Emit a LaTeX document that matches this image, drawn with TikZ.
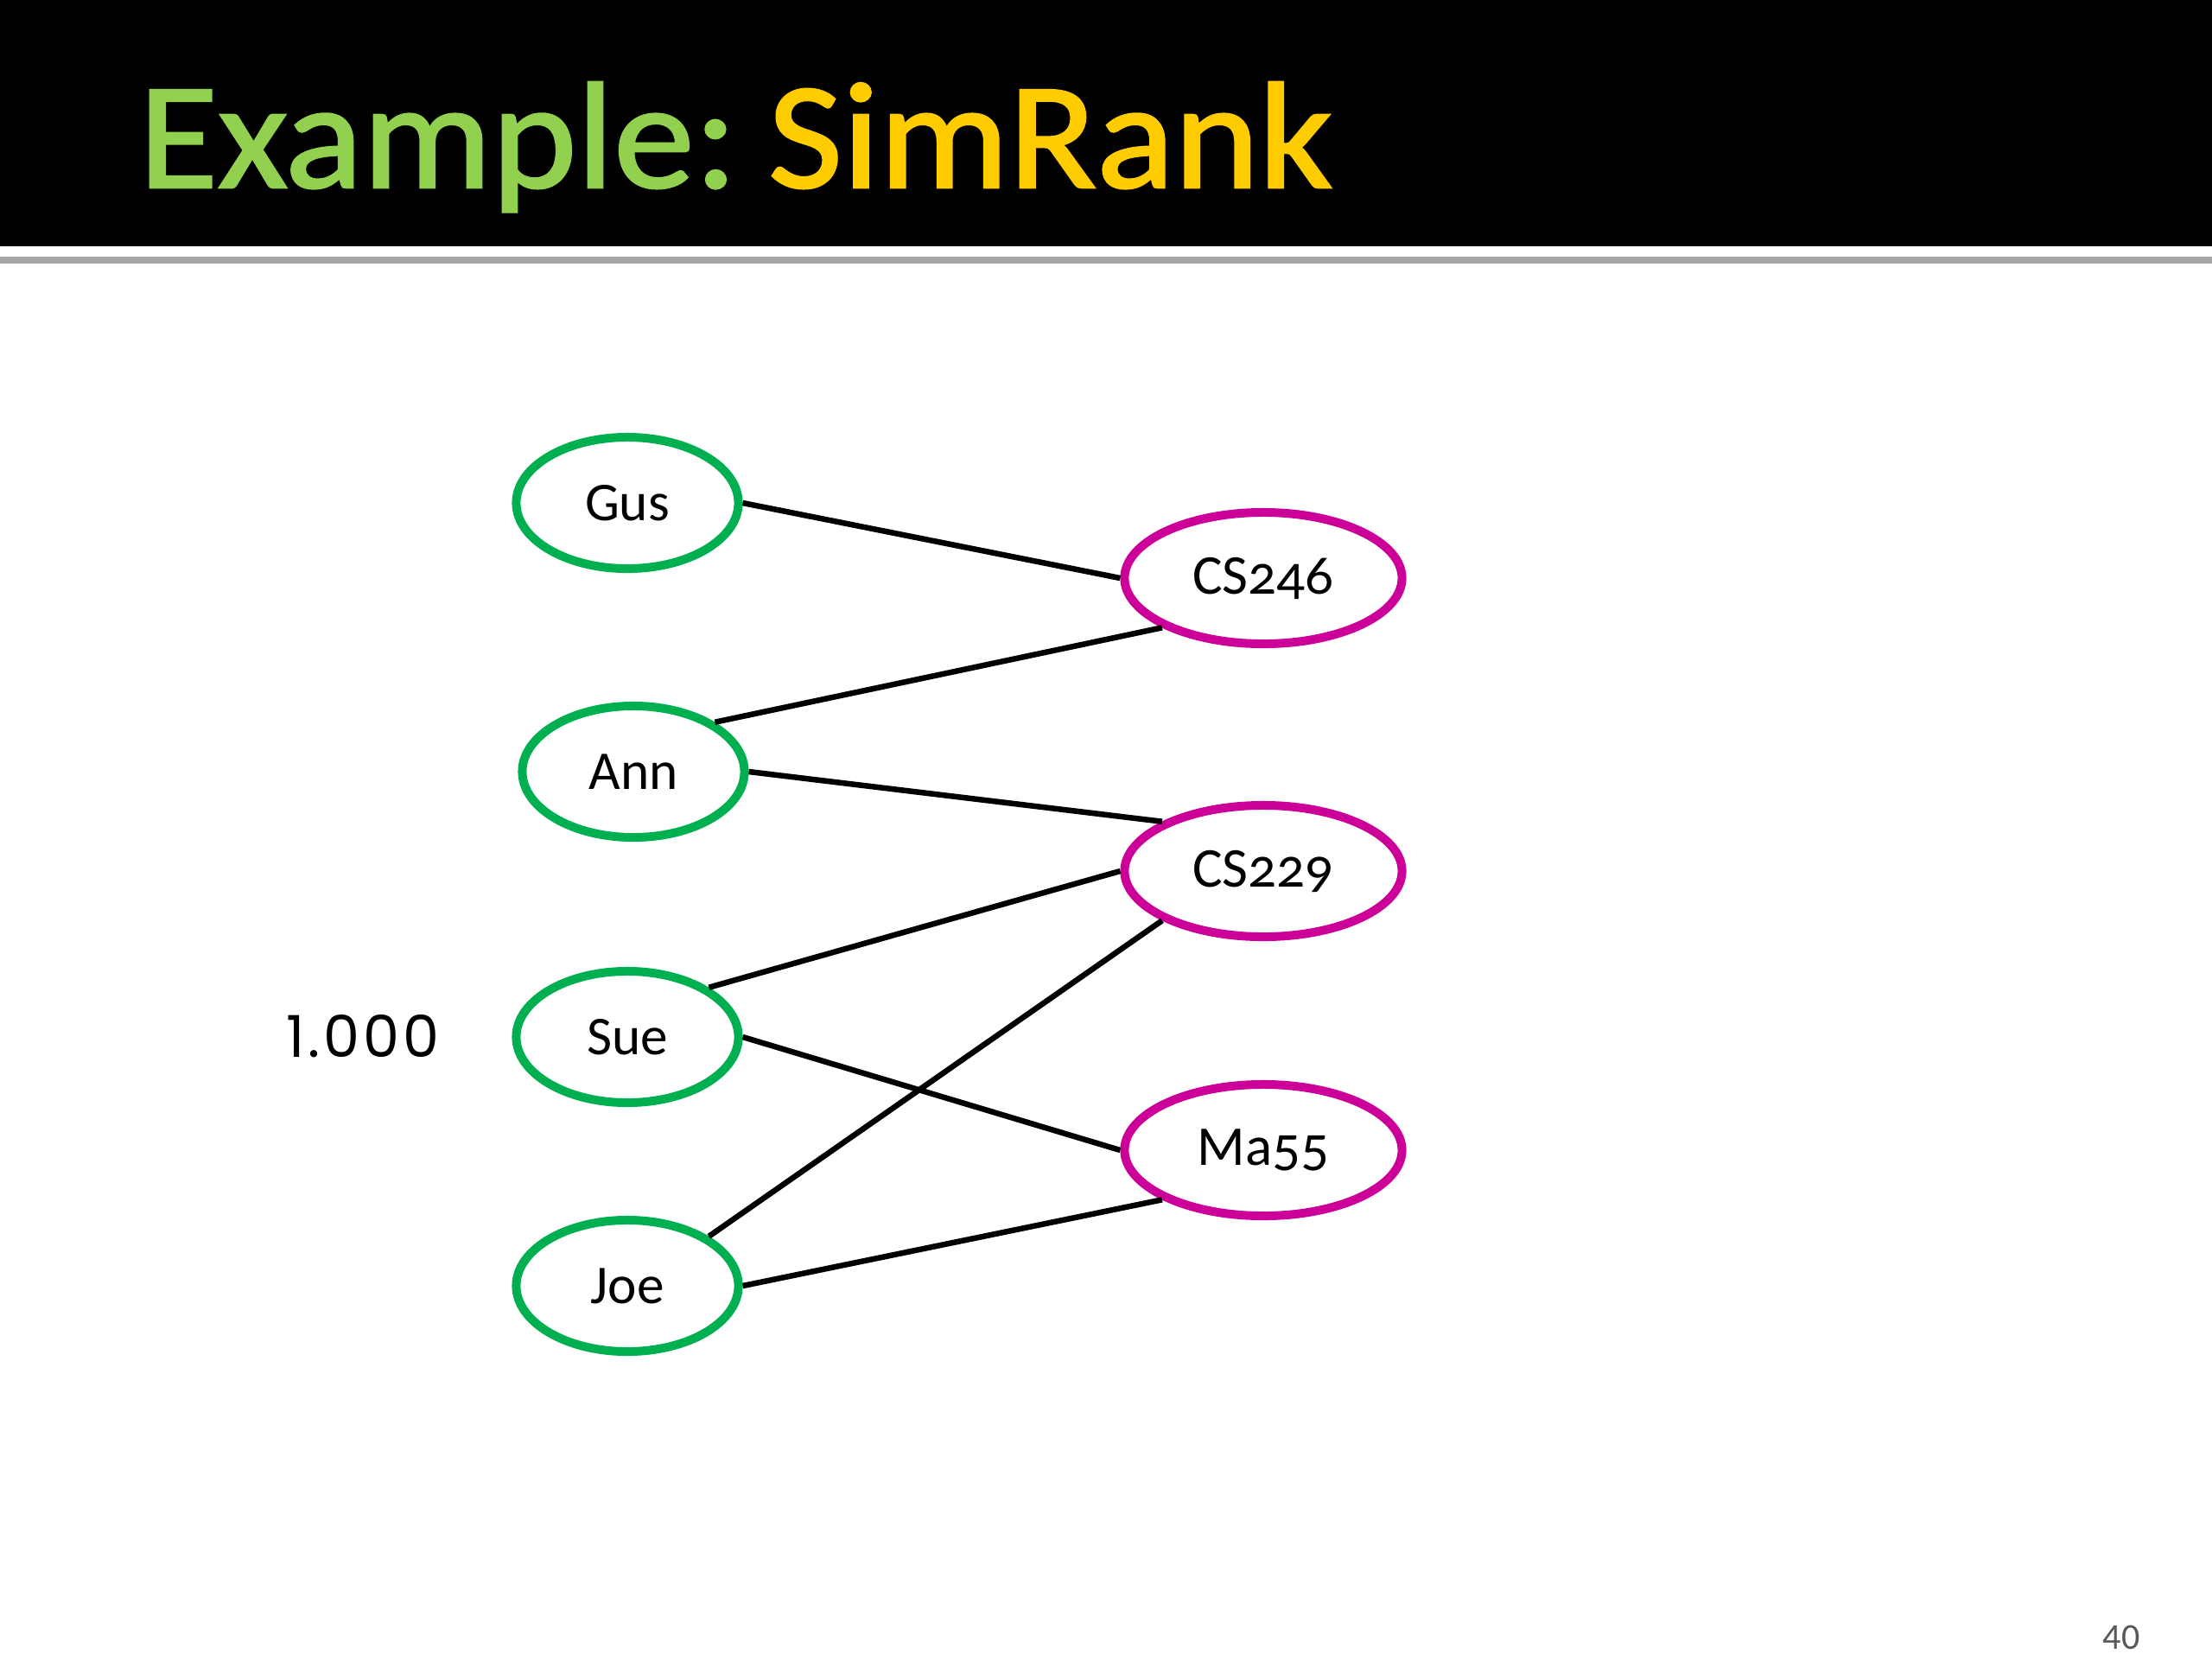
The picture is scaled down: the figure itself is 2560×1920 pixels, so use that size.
\documentclass[tikz,border=0pt]{standalone}
\usepackage{fontspec}
\setmainfont{Carlito}[Numbers=OldStyle]
\newfontfamily\titlefont{Carlito}[FakeBold=1.5,FakeStretch=1.065]
\newfontfamily\numfont{Poppins}[LetterSpace=6]
\newfontfamily\pagefont{Carlito}
\usetikzlibrary{shapes.geometric}
\definecolor{titlegreen}{RGB}{146,208,80}
\definecolor{titleyellow}{RGB}{255,204,0}
\definecolor{persongreen}{RGB}{0,176,80}
\definecolor{coursepink}{RGB}{204,0,153}
\definecolor{rulegray}{RGB}{166,166,166}
\definecolor{pagegray}{RGB}{89,89,89}

\begin{document}
\begin{tikzpicture}[x=0.01cm,y=-0.01cm,
  person/.style={ellipse,draw=persongreen,line width=0.1cm,minimum width=2.57cm,minimum height=1.52cm,inner sep=0pt,font=\fontsize{18}{20}\selectfont},
  course/.style={ellipse,draw=coursepink,line width=0.1cm,minimum width=3.21cm,minimum height=1.52cm,inner sep=0pt,font=\fontsize{18.5}{20}\selectfont},
  link/.style={line width=0.065cm,black}]
\useasboundingbox (0,0) rectangle (2560,1920);
%\draw [help lines,step=100] (0,0) grid (2560,1920);

% header
\fill[black] (0,0) rectangle (2560,285);
\fill[rulegray] (0,297) rectangle (2560,305);
\node[anchor=base west,inner sep=0pt,font=\titlefont\fontsize{50}{52}\selectfont] (T) at (160,217) {\textcolor{titlegreen}{Example:}\hspace{0.2em}\textcolor{titleyellow}{SimRank}};

% people
\node[person] (P0) at (726,582) {Gus};
\node[person] (P1) at (733,893) {Ann};
\node[person] (P2) at (726,1200) {Sue};
\node[person] (P3) at (726,1488) {Joe};

% courses
\node[course] (P4) at (1462,669) {CS246};
\node[course] (P5) at (1462,1008) {CS229};
\node[course] (P6) at (1462,1331) {Ma55};

% score
\node[font=\numfont\fontsize{19}{20}\selectfont] (S) at (420,1199) {1.000};

% page number
\node[font=\pagefont\fontsize{12}{14}\selectfont,text=pagegray] (N) at (2455,1895) {40};

\path[link]

% Gus to CS246
(P0.east) edge (P4.west)

% Ann to CS246 and CS229
(P1.north east) edge (P4.south west)
(P1.east) edge (P5.north west)

% Sue to CS229 and Ma55
(P2.north east) edge (P5.west)
(P2.east) edge (P6.west)

% Joe to CS229 and Ma55
(P3.north east) edge (P5.south west)
(P3.east) edge (P6.south west);

\end{tikzpicture}
\end{document}
